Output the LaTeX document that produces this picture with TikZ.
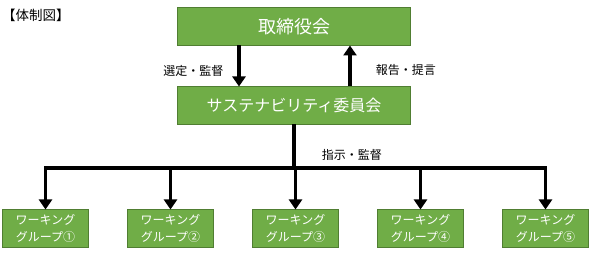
\documentclass[tikz,border=0pt]{standalone}
\usepackage{fontspec}
\newfontfamily\jpfont{Noto Sans CJK JP}
\usetikzlibrary{positioning,arrows.meta}
\definecolor{boxgreen}{HTML}{70AD47}
\definecolor{edgegreen}{HTML}{507E32}

\begin{document}
\begin{tikzpicture}[
    x=1pt, y=-1pt,
    font=\jpfont,
    mainbox/.style={draw=edgegreen, line width=1pt, fill=boxgreen, text=white, minimum width=233pt, minimum height=38pt, inner sep=0pt, outer sep=0pt},
    wgbox/.style={draw=edgegreen, line width=1pt, fill=boxgreen, text=white, minimum width=86pt, minimum height=38pt, inner sep=0pt, outer sep=0pt, align=center, font=\jpfont\fontsize{12}{17}\selectfont},
    arr/.style={-{Triangle[length=10pt, width=13pt]}, line width=3.5pt},
    lbl/.style={font=\jpfont\fontsize{12}{14}\selectfont, inner sep=0pt}
  ]
  \useasboundingbox (0,0) rectangle (590,253);
  \node[anchor=west, inner sep=0pt, font=\jpfont\fontsize{13.5}{15}\selectfont] (title) at (2,15) {【体制図】};

  \node[mainbox, font=\jpfont\fontsize{18}{20}\selectfont] (board) at (294,26.5) {取締役会};
  \node[mainbox, font=\jpfont\fontsize{16}{18}\selectfont, below=41pt of board] (committee) {サステナビリティ委員会};

  \foreach \i/\n in {1/①,2/②,3/③,4/④,5/⑤}
    \node[wgbox] (wg\i) at ({45.5+125*(\i-1)},228.5) {ワーキング\\グループ\n};

  \coordinate (bus) at (294,168);

  \draw[arr] ([xshift=-55pt]board.south) -- node[lbl, pos=0.62, left=14pt] {選定・監督} ([xshift=-55pt]committee.north);
  \draw[arr] ([xshift=56pt]committee.north) -- node[lbl, pos=0.4, right=24pt] {報告・提言} ([xshift=56pt]board.south);

  \draw[line width=3.5pt] (committee.south) -- node[lbl, pos=0.7, right=26pt] {指示・監督} (bus);
  \draw[line width=3.5pt, line cap=rect] (wg1 |- bus) -- (wg5 |- bus);
  \foreach \i in {1,...,5}
    \draw[arr] (wg\i |- bus) -- (wg\i.north);
\end{tikzpicture}
\end{document}
